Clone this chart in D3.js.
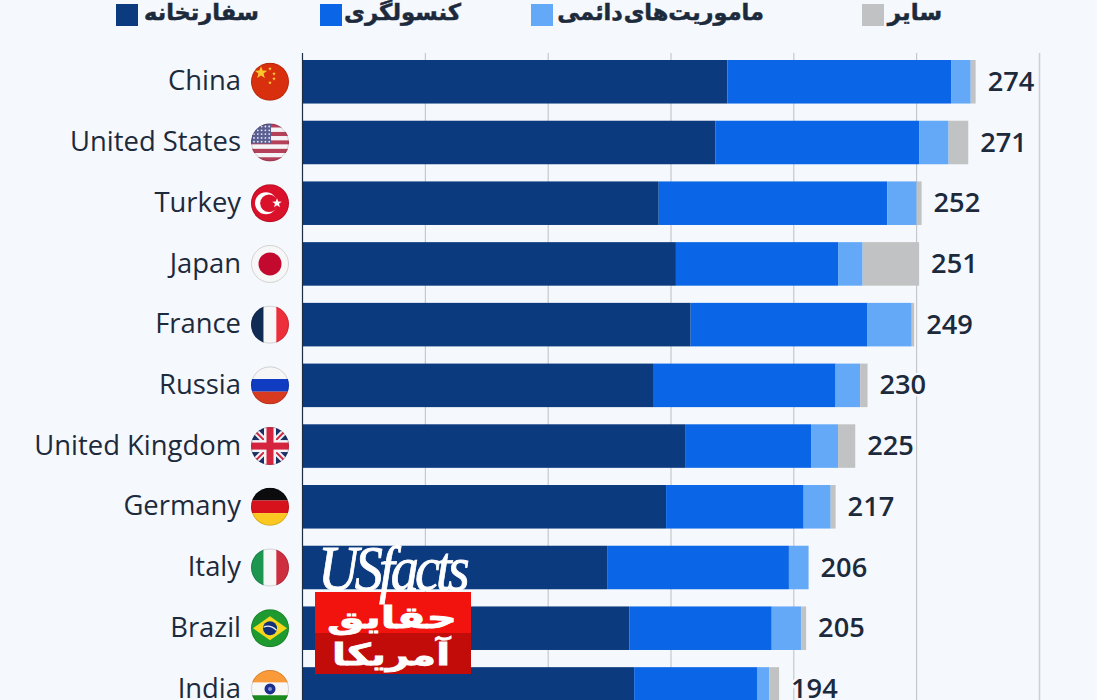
<!DOCTYPE html>
<html>
<head>
<meta charset="utf-8">
<script src="https://cdn.jsdelivr.net/npm/d3@7"></script>
<style>
  html, body { margin: 0; padding: 0; background: #f5f8fc; overflow: hidden; }
  svg { display: block; }
</style>
</head>
<body>
<svg id="chart" width="1097" height="700"></svg>
<script>
const countries = ['China', 'United States', 'Turkey', 'Japan', 'France', 'Russia', 'United Kingdom', 'Germany', 'Italy', 'Brazil', 'India'];
const totals = [274, 271, 252, 251, 249, 230, 225, 217, 206, 205, 194];
const embassies = [173, 168, 145, 152, 158, 143, 156, 148, 124, 133, 135];
const consulates = [91, 83, 93, 66, 72, 74, 51, 56, 74, 58, 50];
const missions = [8, 12, 12, 10, 18, 10, 11, 11, 8, 12, 5];
const others = [2, 8, 2, 23, 1, 3, 7, 2, 0, 2, 4];
const xTicks = [0, 50, 100, 150, 200, 250, 300];

const seriesNames = ['سفارتخانه', 'کنسولگری', 'ماموریت‌های دائمی', 'سایر'];
const seriesKeys = ['embassies', 'consulates', 'missions', 'others'];
const seriesColors = ['#0b3a7e', '#0a66e6', '#64a9f7', '#c1c2c4'];

const bg = '#f5f8fc';
const svg = d3.select('#chart');

const x = d3.scaleLinear().domain([0, 300]).range([302.5, 1039.5]);
const y = d3.scaleBand().domain(countries).range([51.5, 51.5 + 60.7 * 11]).paddingInner(0.283).paddingOuter(0.14);

const rows = countries.map((c, i) => ({
  country: c, total: totals[i],
  embassies: embassies[i], consulates: consulates[i], missions: missions[i], others: others[i]
}));
const stacked = d3.stack().keys(seriesKeys)(rows);

// gridlines
svg.append('g').selectAll('line')
  .data(xTicks.slice(1))
  .join('line')
  .attr('x1', d => x(d)).attr('x2', d => x(d))
  .attr('y1', 53).attr('y2', 700)
  .attr('stroke', d => d === 300 ? '#c9d0da' : '#bcbec2')
  .attr('stroke-width', d => d === 300 ? 1.5 : 1);

// bars
svg.append('g').selectAll('g')
  .data(stacked)
  .join('g')
  .attr('fill', (d, i) => seriesColors[i])
  .selectAll('rect')
  .data(d => d)
  .join('rect')
  .attr('x', d => x(d[0]))
  .attr('width', d => x(d[1]) - x(d[0]))
  .attr('y', d => y(d.data.country))
  .attr('height', y.bandwidth());

// axis line
svg.append('line')
  .attr('x1', x(0)).attr('x2', x(0)).attr('y1', 53).attr('y2', 700)
  .attr('stroke', '#1d2c40').attr('stroke-width', 1.2);

// country labels
svg.append('g').selectAll('text')
  .data(rows)
  .join('text')
  .text(d => d.country)
  .attr('x', 241)
  .attr('y', d => y(d.country) + y.bandwidth() / 2 - 1)
  .attr('dy', '0.35em')
  .attr('text-anchor', 'end')
  .attr('font-family', 'Open Sans')
  .attr('font-size', 27.4)
  .attr('fill', '#1c2a3c');

// totals, with a halo that breaks the gridlines
svg.append('g').selectAll('text')
  .data(rows)
  .join('text')
  .text(d => d.total)
  .attr('x', d => x(d.total) + 12)
  .attr('y', d => y(d.country) + y.bandwidth() / 2 - 0.5)
  .attr('dy', '0.35em')
  .attr('font-family', 'Open Sans')
  .attr('font-weight', 600)
  .attr('font-size', 27.2)
  .attr('fill', '#1c2a3c')
  .attr('stroke', bg).attr('stroke-width', 5).attr('paint-order', 'stroke');

// flags
const flagR = 19;
const defs = svg.append('defs');
defs.append('clipPath').attr('id', 'flagClip').append('circle').attr('r', flagR);

function bands(g, colors, vertical) {
  const s = d3.scaleBand().domain(d3.range(colors.length)).range([-flagR, flagR]);
  colors.forEach((c, i) => {
    g.append('rect')
      .attr('x', vertical ? s(i) : -flagR).attr('y', vertical ? -flagR : s(i))
      .attr('width', vertical ? s.bandwidth() : flagR * 2)
      .attr('height', vertical ? flagR * 2 : s.bandwidth())
      .attr('fill', c);
  });
}
function star(g, cx, cy, r, fill) {
  const pts = d3.range(10).map(i => {
    const a = -Math.PI / 2 + i * Math.PI / 5, q = i % 2 ? r * 0.42 : r;
    return [cx + q * Math.cos(a), cy + q * Math.sin(a)];
  });
  g.append('polygon').attr('points', pts.join(' ')).attr('fill', fill);
}
const flags = {
  'China': g => {
    g.append('rect').attr('x', -19).attr('y', -19).attr('width', 38).attr('height', 38).attr('fill', '#d8300f');
    star(g, -9, -9, 6.5, '#fbc52d');
    [[0, -13], [4, -8], [4, -3], [0, 1]].forEach(p => star(g, p[0], p[1], 2, '#fbc52d'));
  },
  'United States': g => {
    bands(g, ['#b5405a', '#f4f4f6', '#b5405a', '#f4f4f6', '#b5405a', '#f4f4f6', '#b5405a', '#f4f4f6', '#b5405a'], false);
    g.append('rect').attr('x', -19).attr('y', -19).attr('width', 20).attr('height', 20).attr('fill', '#5a5f92');
    d3.range(5).forEach(r => d3.range(5).forEach(c => {
      g.append('circle').attr('cx', -16 + c * 3.8).attr('cy', -16 + r * 3.8).attr('r', 0.9).attr('fill', '#e8e8f2');
    }));
  },
  'Turkey': g => {
    g.append('rect').attr('x', -19).attr('y', -19).attr('width', 38).attr('height', 38).attr('fill', '#d9112a');
    g.append('circle').attr('cx', -4).attr('r', 11).attr('fill', '#fff');
    g.append('circle').attr('cx', -1).attr('r', 8.8).attr('fill', '#d9112a');
    star(g, 7, 0, 5, '#fff');
  },
  'Japan': g => {
    g.append('rect').attr('x', -19).attr('y', -19).attr('width', 38).attr('height', 38).attr('fill', '#f7f7f8');
    g.append('circle').attr('r', 11.5).attr('fill', '#c4092f');
  },
  'France': g => bands(g, ['#102c54', '#f7f7f8', '#ed2f3c'], true),
  'Russia': g => bands(g, ['#f6f6f7', '#0f3cc0', '#d83a20'], false),
  'United Kingdom': g => {
    g.append('rect').attr('x', -19).attr('y', -19).attr('width', 38).attr('height', 38).attr('fill', '#1c2f66');
    [[-19, -19, 19, 19], [-19, 19, 19, -19]].forEach(l => {
      g.append('line').attr('x1', l[0]).attr('y1', l[1]).attr('x2', l[2]).attr('y2', l[3]).attr('stroke', '#f4f4f6').attr('stroke-width', 6);
      g.append('line').attr('x1', l[0]).attr('y1', l[1]).attr('x2', l[2]).attr('y2', l[3]).attr('stroke', '#d4243e').attr('stroke-width', 2);
    });
    g.append('rect').attr('x', -6).attr('y', -19).attr('width', 12).attr('height', 38).attr('fill', '#f4f4f6');
    g.append('rect').attr('x', -19).attr('y', -6).attr('width', 38).attr('height', 12).attr('fill', '#f4f4f6');
    g.append('rect').attr('x', -3.5).attr('y', -19).attr('width', 7).attr('height', 38).attr('fill', '#d4243e');
    g.append('rect').attr('x', -19).attr('y', -3.5).attr('width', 38).attr('height', 7).attr('fill', '#d4243e');
  },
  'Germany': g => bands(g, ['#0c0c0e', '#d8121c', '#fbc821'], false),
  'Italy': g => bands(g, ['#1d9650', '#f7f7f8', '#ce2f3f'], true),
  'Brazil': g => {
    g.append('rect').attr('x', -19).attr('y', -19).attr('width', 38).attr('height', 38).attr('fill', '#1f9a30');
    g.append('polygon').attr('points', '-17,0 0,-12 17,0 0,12').attr('fill', '#f4d71c');
    g.append('circle').attr('r', 7).attr('fill', '#12307a');
    g.append('path').attr('d', 'M-6.5,-1 Q0,-4 6.5,2').attr('fill', 'none').attr('stroke', '#f2f2f2').attr('stroke-width', 1.2);
  },
  'India': g => {
    bands(g, ['#fb9a38', '#f7f7f8', '#1b8a1f'], false);
    g.append('circle').attr('r', 5.5).attr('fill', '#1a2f8e');
    g.append('circle').attr('r', 2).attr('fill', '#7f8fd0');
  }
};
const flagG = svg.append('g').selectAll('g')
  .data(rows)
  .join('g')
  .attr('transform', d => `translate(270, ${y(d.country) + y.bandwidth() / 2})`);
flagG.each(function (d) {
  const g = d3.select(this).append('g').attr('clip-path', 'url(#flagClip)');
  flags[d.country](g);
});
flagG.append('circle').attr('r', flagR - 0.5).attr('fill', 'none')
  .attr('stroke', '#000').attr('stroke-opacity', 0.15).attr('stroke-width', 1);

// legend
const legendX = d3.scaleOrdinal().domain(seriesKeys).range([116, 320, 531, 862]);
const legendTextEnd = d3.scaleOrdinal().domain(seriesKeys).range([259, 461, 764, 942]);
const legendFont = d3.scaleOrdinal().domain(seriesKeys).range([22.5, 22.8, 22.5, 23]);
const legend = svg.append('g').selectAll('g')
  .data(seriesKeys)
  .join('g');
legend.append('rect')
  .attr('x', d => legendX(d)).attr('y', 4).attr('width', 22).attr('height', 22)
  .attr('fill', (d, i) => seriesColors[i]);
legend.append('text')
  .text((d, i) => seriesNames[i])
  .attr('x', d => legendTextEnd(d))
  .attr('y', 20)
  .attr('direction', 'rtl')
  .attr('font-family', 'DejaVu Sans')
  .attr('font-weight', 700)
  .attr('font-size', d => legendFont(d))
  .attr('word-spacing', -7)
  .attr('fill', '#1c2a3c')
  .attr('stroke', '#1c2a3c').attr('stroke-width', 0.5);

// logo
const logo = svg.append('g');
logo.append('rect').attr('x', 315).attr('y', 592).attr('width', 156).attr('height', 41).attr('fill', '#f2130f');
logo.append('rect').attr('x', 315).attr('y', 633).attr('width', 156).attr('height', 41).attr('fill', '#c10c09');
logo.append('text').text('USfacts')
  .attr('transform', 'translate(318, 590) scale(0.94, 1.06)')
  .attr('font-family', 'Liberation Serif').attr('font-style', 'italic')
  .attr('font-size', 60).attr('letter-spacing', -4.2).attr('fill', '#fff')
  .attr('stroke', '#fff').attr('stroke-width', 0.8);
logo.append('text').text('حقایق')
  .attr('transform', 'translate(392, 628) scale(1.4, 1)').attr('text-anchor', 'middle')
  .attr('font-family', 'DejaVu Sans').attr('font-weight', 700).attr('font-size', 30).attr('fill', '#fff')
  .attr('stroke', '#fff').attr('stroke-width', 0.8);
logo.append('text').text('آمریکا')
  .attr('transform', 'translate(391, 665) scale(1.35, 1)').attr('text-anchor', 'middle')
  .attr('font-family', 'DejaVu Sans').attr('font-weight', 700).attr('font-size', 30).attr('fill', '#fff')
  .attr('stroke', '#fff').attr('stroke-width', 0.8);
</script>
</body>
</html>
